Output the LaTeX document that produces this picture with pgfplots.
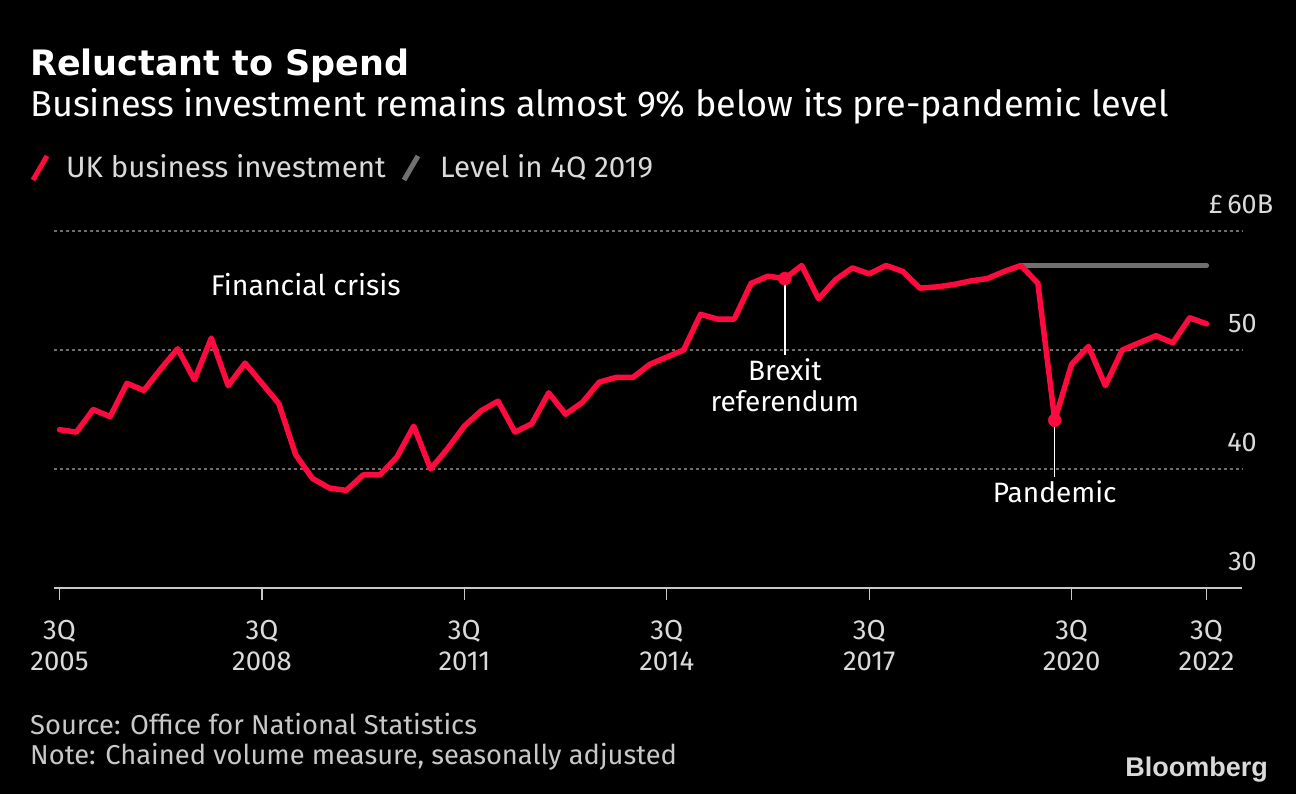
\documentclass[border=0pt]{standalone}
\usepackage{pgfplots}
\pgfplotsset{compat=1.18}
\usepackage{fontspec}
\setmainfont{Fira Sans}
\newfontfamily\titlefont{DejaVu Sans}
\newfontfamily\logofont{Liberation Sans}
\definecolor{bred}{HTML}{FF0A3F}
\definecolor{lvlgrey}{HTML}{707070}
\definecolor{gridgrey}{HTML}{6E6E6E}
\definecolor{axgrey}{HTML}{C8C8C8}
\definecolor{txtgrey}{HTML}{DADADA}
\begin{document}
\begin{tikzpicture}[x=1pt,y=1pt]
\fill[black] (0,0) rectangle (1296,794);
\useasboundingbox (0,0) rectangle (1296,794);
% titles
\node[anchor=base west, inner sep=0pt, text=white, font=\titlefont\bfseries\fontsize{35}{40}\selectfont] at (30,718) {Reluctant to Spend};
\node[anchor=base west, inner sep=0pt, text=white, font=\fontsize{36}{40}\selectfont] at (30,677) {Business investment remains almost 9\% below its pre-pandemic level};
% legend
\draw[bred, line width=5pt] (33,614) -- (47,638);
\node[anchor=base west, inner sep=0pt, text=txtgrey, font=\fontsize{29.5}{34}\selectfont] at (66,616) {UK business investment};
\draw[lvlgrey, line width=5pt] (404,614) -- (418,638);
\node[anchor=base west, inner sep=0pt, text=txtgrey, font=\fontsize{29.5}{34}\selectfont] at (440,616) {Level in 4Q 2019};
% source
\node[anchor=base west, inner sep=0pt, text=axgrey, font=\fontsize{27.3}{30}\selectfont] at (30,59) {Source: Office for National Statistics};
\node[anchor=base west, inner sep=0pt, text=axgrey, font=\fontsize{27.3}{30}\selectfont] at (30,29) {Note: Chained volume measure, seasonally adjusted};
\node[anchor=base east, inner sep=0pt, text=txtgrey, font=\logofont\bfseries\fontsize{27}{30}\selectfont] at (1268,17) {Bloomberg};
\begin{axis}[
  at={(53.7pt,206pt)}, anchor=south west,
  scale only axis, width=1188.3pt, height=357pt,
  xmin=-0.344, xmax=70.1, ymin=30, ymax=60,
  axis x line*=bottom, axis y line*=right,
  x axis line style={draw=axgrey, line width=2.5pt, -},
  y axis line style={draw=none},
  xtick={0,12,24,36,48,60,68},
  xticklabels={3Q\\2005,3Q\\2008,3Q\\2011,3Q\\2014,3Q\\2017,3Q\\2020,3Q\\2022},
  tick align=outside,
  major tick length=12pt,
  xtick style={draw=axgrey, line width=1.2pt},
  x tick label style={anchor=north, align=center, text=txtgrey, inner sep=0pt, yshift=-20pt, font=\fontsize{27.5}{31}\selectfont},
  ytick={40,50,60},
  yticklabels={40,50,\llap{£\,}60\rlap{B}},
  extra y ticks={30},
  extra y tick labels={30},
  extra y tick style={grid=none},
  ytick style={draw=none},
  y tick label style={anchor=base east, inner sep=0pt, xshift=3pt, yshift=17pt, text=txtgrey, font=\fontsize{27}{32}\selectfont},
  ymajorgrids,
  y grid style={gridgrey, line width=1.5pt, dash pattern=on 3pt off 3pt},
  clip=false,
]
\addplot[lvlgrey, line width=5pt, line cap=round] coordinates {(57,57.1) (68,57.1)};
\addplot[bred, line width=5.5pt, line join=round, line cap=round] coordinates {
(0,43.3) (1,43.1) (2,45.0) (3,44.4) (4,47.2) (5,46.6) (6,48.4) (7,50.1) (8,47.5) (9,51.0)
(10,47.0) (11,48.9) (12,47.2) (13,45.5) (14,41.2) (15,39.2) (16,38.4) (17,38.2) (18,39.5) (19,39.5)
(20,41.0) (21,43.6) (22,40.0) (23,41.7) (24,43.6) (25,44.9) (26,45.7) (27,43.1) (28,43.8) (29,46.4)
(30,44.6) (31,45.6) (32,47.3) (33,47.7) (34,47.7) (35,48.8) (36,49.4) (37,50.0) (38,53.0) (39,52.6)
(40,52.6) (41,55.6) (42,56.2) (43,56.0) (44,57.1) (45,54.3) (46,55.9) (47,56.9) (48,56.4) (49,57.1)
(50,56.6) (51,55.2) (52,55.3) (53,55.5) (54,55.8) (55,56.0) (56,56.6) (57,57.1) (58,55.6) (59,44.1)
(60,48.8) (61,50.3) (62,47.0) (63,50.0) (64,50.6) (65,51.2) (66,50.6) (67,52.7) (68,52.2)
};
\draw[white, line width=1.3pt] (axis cs:43,56.0) -- (axis cs:43,49.6);
\draw[white, line width=1.3pt] (axis cs:59,44.1) -- (axis cs:59,39.3);
\addplot[only marks, mark=*, mark size=6.5pt, bred, mark options={draw=bred, fill=bred}] coordinates {(43,56.0) (59,44.1)};
\node[anchor=north, align=center, inner sep=0pt, text=white, font=\fontsize{28}{31}\selectfont] at (axis cs:43,49.3) {Brexit\\referendum};
\node[anchor=north, align=center, inner sep=0pt, text=white, font=\fontsize{28}{31}\selectfont] at (axis cs:59,39.0) {Pandemic};
\node[anchor=center, inner sep=0pt, text=white, font=\fontsize{28.5}{31}\selectfont] at (axis cs:14.6,55.46) {Financial crisis};
\end{axis}
\end{tikzpicture}
\end{document}
